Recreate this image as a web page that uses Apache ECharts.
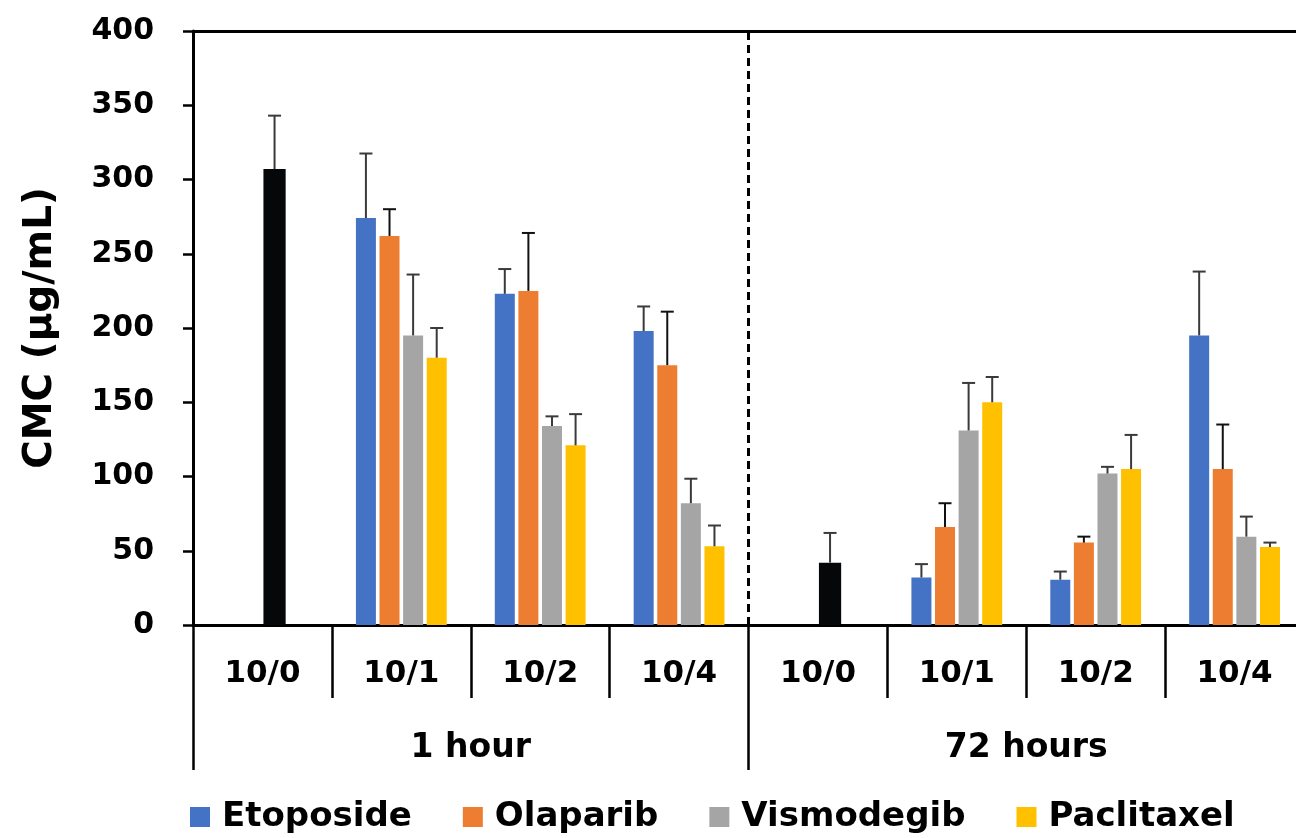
<!DOCTYPE html>
<html>
<head>
<meta charset="utf-8">
<script src="https://cdn.jsdelivr.net/npm/echarts@6/dist/echarts.min.js"></script>
<style>
html,body{margin:0;padding:0;background:#fff;}
#chart{width:1296px;height:838px;}
</style>
</head>
<body>
<div id="chart"></div>
<script>
const ratioLabels = ['10/0','10/1','10/2','10/4','10/0','10/1','10/2','10/4'];
const periodLabels = ['1 hour','72 hours'];
const yMin = 0, yMax = 400, yStep = 50;
const yTitle = 'CMC (µg/mL)';

const seriesNames = ['Etoposide','Olaparib','Vismodegib','Paclitaxel'];
const controlValues = [307, null, null, null, 42, null, null, null];
const controlErrors = [36, null, null, null, 20, null, null, null];
const etoposideValues  = [null, 274, 223, 198, null, 32, 30.5, 195];
const etoposideErrors  = [null, 43.5, 16.7, 16.5, null, 9, 5.5, 43];
const olaparibValues   = [null, 262, 225, 175, null, 66, 55.5, 105];
const olaparibErrors   = [null, 18, 39, 36, null, 16, 4, 30];
const vismodegibValues = [null, 195, 134, 82, null, 131, 102, 59.5];
const vismodegibErrors = [null, 41, 6.5, 16.5, null, 32, 4.5, 13.5];
const paclitaxelValues = [null, 180, 121, 53, null, 150, 105, 52.5];
const paclitaxelErrors = [null, 20, 21, 14, null, 17, 23, 3];

const colors = ['#4472C4','#ED7D31','#A5A5A5','#FFC000'];
const controlColor = '#050708';
const FONT = 'DejaVu Sans';

const drugValues = [etoposideValues, olaparibValues, vismodegibValues, paclitaxelValues];
const drugErrors = [etoposideErrors, olaparibErrors, vismodegibErrors, paclitaxelErrors];
const errColors = ['#3a3a3a','#111','#3a3a3a','#3a3a3a'];

const DRUG_W = 0.144, DRUG_GAP = 0.18;
const CTRL_W = 0.16, CTRL_GAP = 0.09;

function errSeries(name, values, errors, slot, slotCount, wFrac, gapFrac, color, xIdx) {
  const data = [];
  values.forEach((v, i) => { if (v != null) data.push([i, v, errors[i]]); });
  return {
    type: 'custom', name: name + '_err', xAxisIndex: xIdx, yAxisIndex: 0, z: 5, silent: true,
    data: data,
    renderItem: function (params, api) {
      const i = api.value(0), m = api.value(1), e = api.value(2);
      const base = api.coord([i, m]);
      const top = api.coord([i, m + e]);
      const band = api.size([1, 0])[0];
      const w = band * wFrac, g = w * gapFrac;
      const total = slotCount * w + (slotCount - 1) * g;
      const cx = base[0] - total / 2 + slot * (w + g) + w / 2;
      const cap = 6.5;
      const st = { stroke: color, lineWidth: 2 };
      return { type: 'group', children: [
        { type: 'line', shape: { x1: cx, y1: base[1], x2: cx, y2: top[1] }, style: st },
        { type: 'line', shape: { x1: cx - cap, y1: top[1], x2: cx + cap, y2: top[1] }, style: st }
      ]};
    }
  };
}

const series = [];
seriesNames.forEach((n, k) => {
  series.push({
    type: 'bar', name: n, xAxisIndex: 0, yAxisIndex: 0,
    data: drugValues[k], barWidth: (DRUG_W * 100) + '%', barGap: (DRUG_GAP * 100) + '%',
    itemStyle: { color: colors[k] }
  });
});
series.push({
  type: 'bar', name: '_spacer', xAxisIndex: 3, yAxisIndex: 0,
  data: ratioLabels.map(() => null), barWidth: (CTRL_W * 100) + '%', barGap: (CTRL_GAP * 100) + '%',
  itemStyle: { color: 'rgba(0,0,0,0)' }
});
series.push({
  type: 'bar', name: 'Control', xAxisIndex: 3, yAxisIndex: 0,
  data: controlValues, barWidth: (CTRL_W * 100) + '%', barGap: (CTRL_GAP * 100) + '%',
  itemStyle: { color: controlColor }
});
seriesNames.forEach((n, k) => {
  series.push(errSeries(n, drugValues[k], drugErrors[k], k, 4, DRUG_W, DRUG_GAP, errColors[k], 0));
});
series.push(errSeries('Control', controlValues, controlErrors, 1, 2, CTRL_W, CTRL_GAP, '#3a3a3a', 3));
const boundary = ratioLabels.length / periodLabels.length;
series.push({
  type: 'line', name: '_divider', xAxisIndex: 1, yAxisIndex: 0, silent: true, z: 6,
  data: [[boundary, yMin], [boundary, yMax]], symbol: 'none',
  lineStyle: { color: '#000', width: 3, type: [8, 5] }
});

const chart = echarts.init(document.getElementById('chart'), null, { renderer: 'canvas' });
chart.setOption({
  animation: false,
  backgroundColor: '#fff',
  grid: { left: 193, top: 31, width: 1111, height: 594, outerBoundsMode: 'none', containLabel: false },
  legend: {
    data: seriesNames, left: 185, top: 795, icon: 'rect', itemWidth: 20, itemHeight: 20, itemGap: 51,
    textStyle: { fontFamily: FONT, fontWeight: 'bold', fontSize: 34, color: '#000', padding: [0, 0, 0, 7] }
  },
  xAxis: [
    {
      type: 'category', data: ratioLabels, position: 'bottom', boundaryGap: true,
      axisLine: { show: true, lineStyle: { color: '#000', width: 3 } },
      axisTick: { show: true, interval: 0, length: 73, lineStyle: { color: '#000', width: 2.5 } },
      axisLabel: { interval: 0, margin: 33, fontFamily: FONT, fontWeight: 'bold', fontSize: 31, color: '#000' },
      splitLine: { show: false }
    },
    {
      type: 'value', position: 'top', min: 0, max: ratioLabels.length,
      axisLine: { show: true, lineStyle: { color: '#000', width: 3 } },
      axisTick: { show: false }, axisLabel: { show: false }, splitLine: { show: false }
    },
    {
      type: 'category', data: periodLabels, position: 'bottom', boundaryGap: true,
      axisLine: { show: false },
      axisTick: { show: true, interval: 0, length: 145, lineStyle: { color: '#000', width: 2.5 } },
      axisLabel: { interval: 0, margin: 107, fontFamily: FONT, fontWeight: 'bold', fontSize: 33, color: '#000' },
      splitLine: { show: false }
    },
    {
      type: 'category', data: ratioLabels, show: false, position: 'bottom'
    }
  ],
  yAxis: [{
    type: 'value', min: yMin, max: yMax, interval: yStep,
    name: yTitle, nameLocation: 'middle', nameGap: 133,
    nameTextStyle: { fontFamily: FONT, fontWeight: 'bold', fontSize: 39, color: '#000' },
    axisLine: { show: true, lineStyle: { color: '#000', width: 3 } },
    axisTick: { show: true, inside: false, length: 10, lineStyle: { color: '#000', width: 2.5 } },
    axisLabel: { margin: 39, fontFamily: FONT, fontWeight: 'bold', fontSize: 30, color: '#000' },
    splitLine: { show: false }
  }],
  series: series
});
</script>
</body>
</html>
